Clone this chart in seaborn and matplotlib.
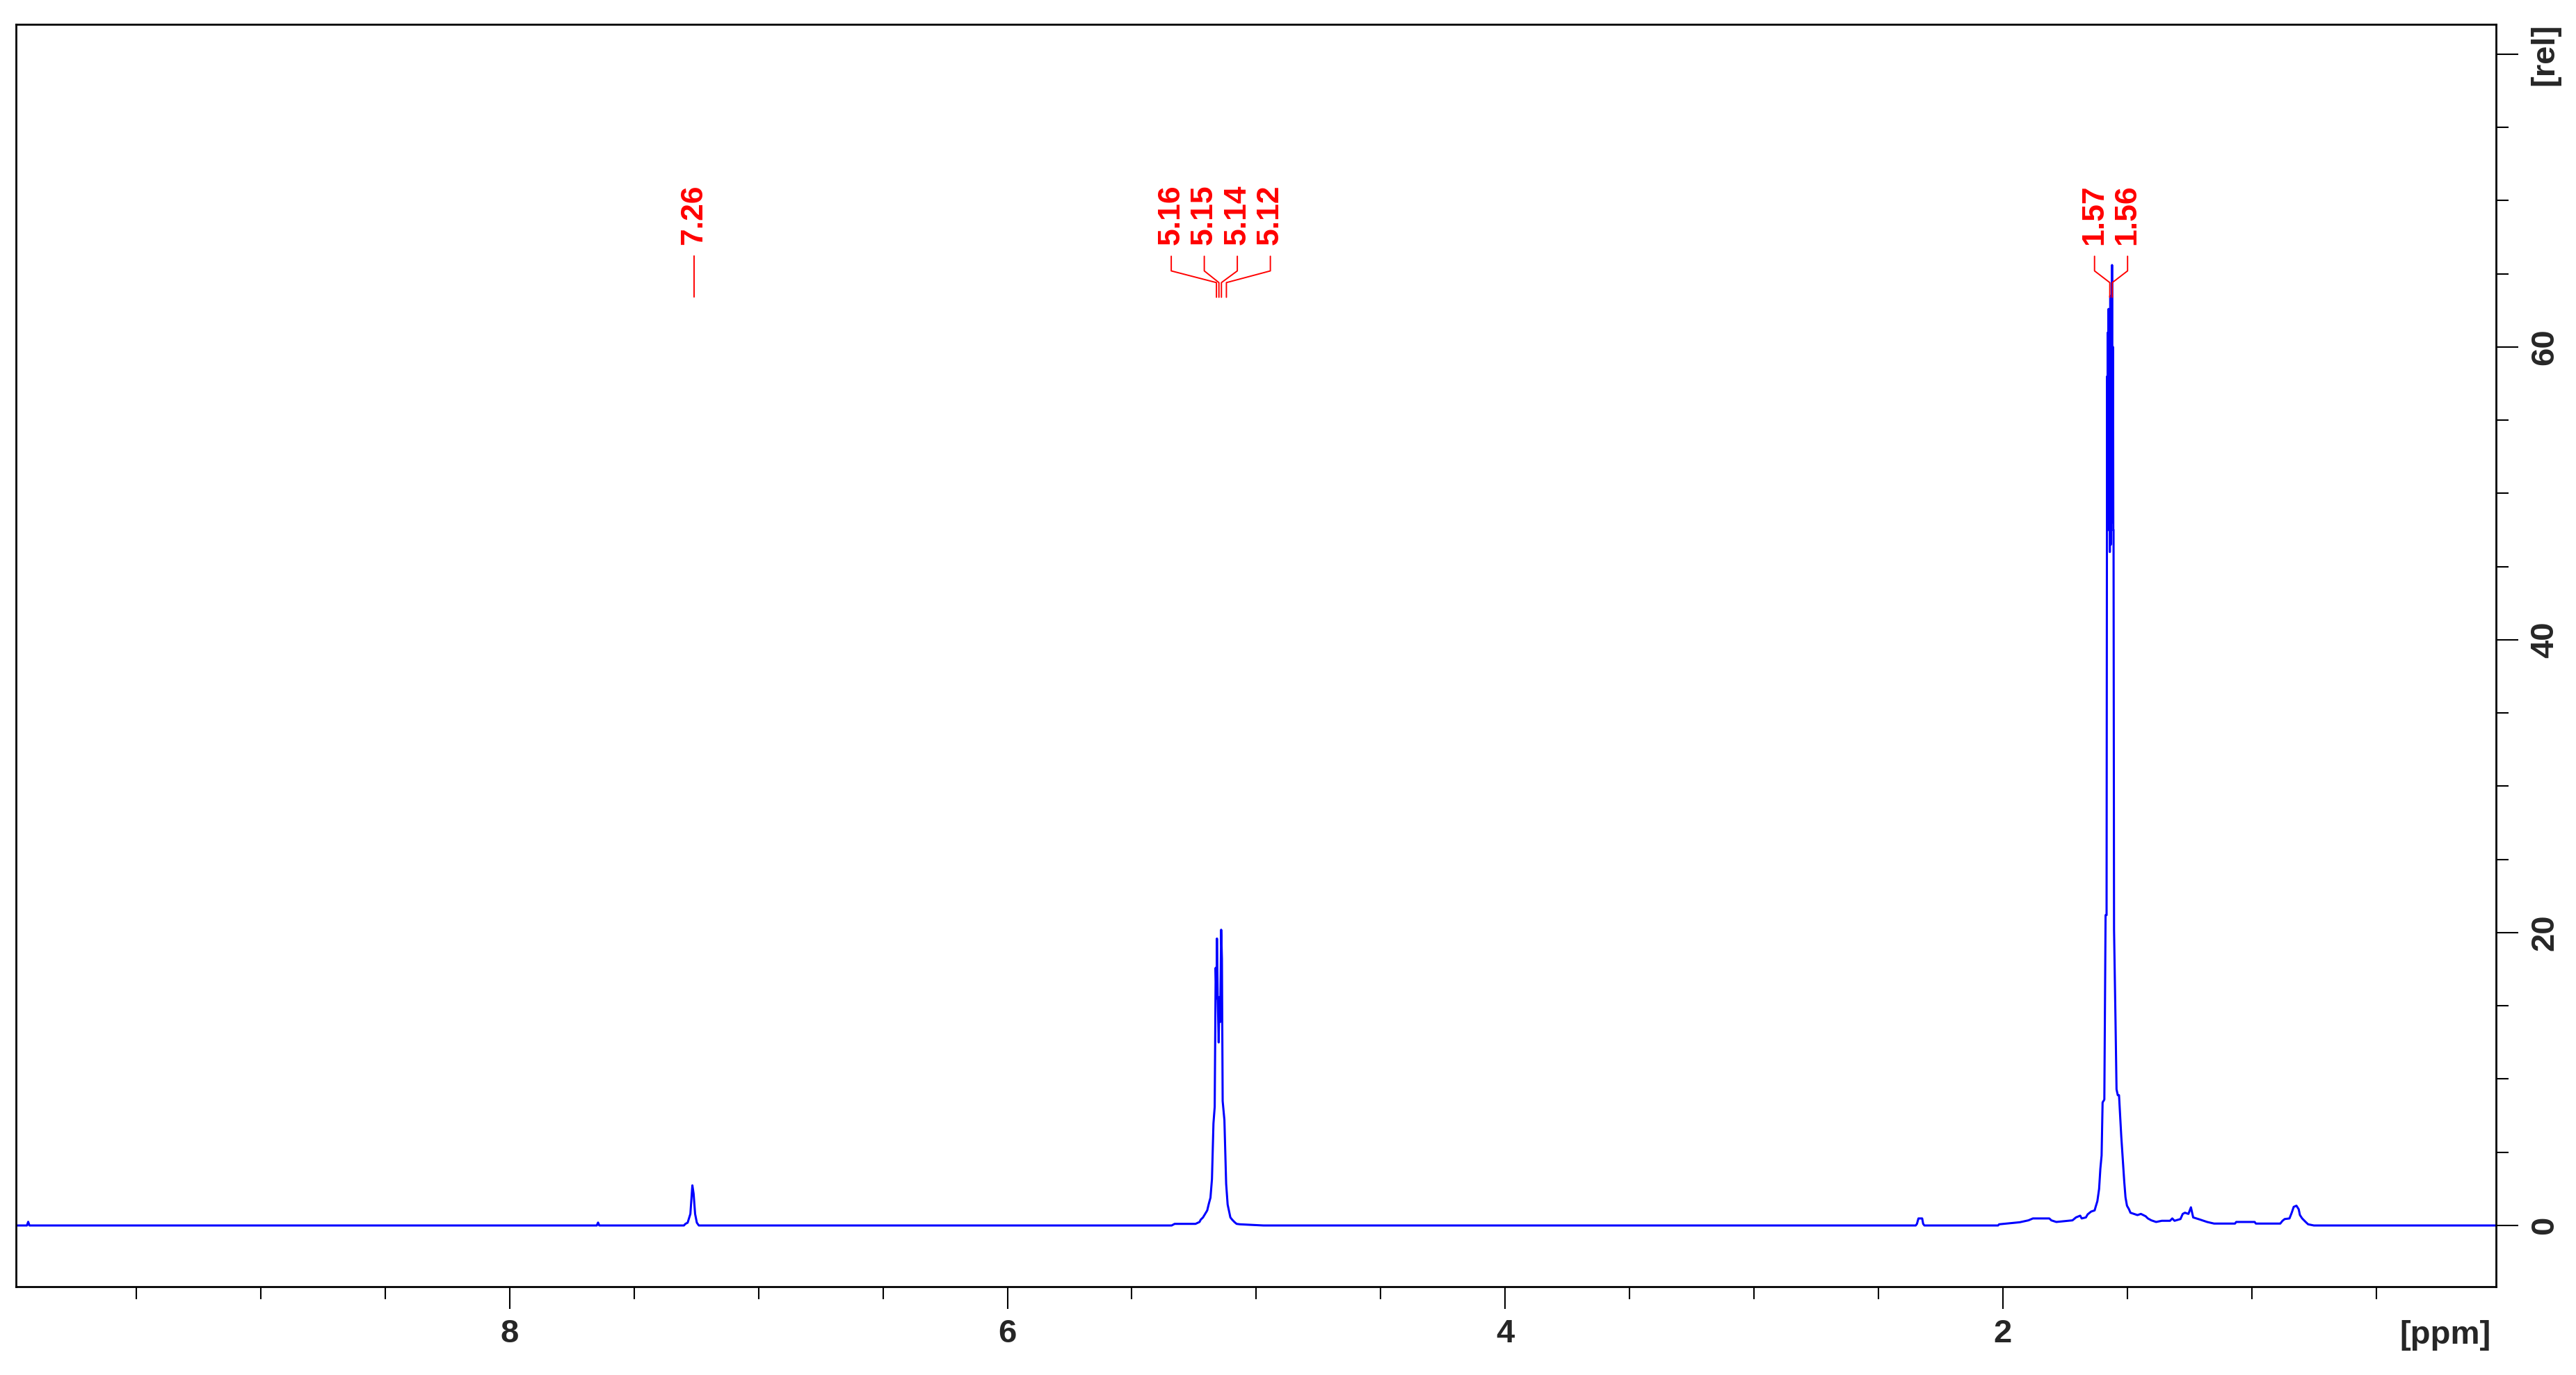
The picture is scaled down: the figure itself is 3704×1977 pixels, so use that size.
#!/usr/bin/env python
import matplotlib
matplotlib.use("Agg")
import matplotlib.pyplot as plt
from matplotlib.lines import Line2D
from matplotlib.ticker import FixedLocator, MultipleLocator
from matplotlib.transforms import IdentityTransform
import numpy as np
import pandas as pd
import seaborn as sns

# 1H NMR spectrum: chemical shift [ppm] / intensity [rel]
flat_ppm = [10.0, 9.94, 9.935, 9.93, 7.65, 7.645, 7.64, 7.30]
flat_int = [0, 0, 0.25, 0, 0, 0.2, 0, 0]

cdcl3_ppm = [7.294, 7.285, 7.274, 7.266, 7.261, 7.255, 7.248, 7.240, 5.340]
cdcl3_int = [0.11, 0.19, 0.79, 2.74, 2.17, 0.79, 0.19, 0.0, 0.0]

olefin_ppm = [5.328, 5.244, 5.228, 5.223, 5.214, 5.205, 5.197, 5.191, 5.184,
              5.178, 5.172, 5.167, 5.163, 5.160, 5.158, 5.155, 5.151, 5.148,
              5.145, 5.141, 5.138, 5.135, 5.128, 5.121, 5.115, 5.109, 5.104,
              5.097, 5.088, 5.079, 5.065, 4.971]
olefin_int = [0.11, 0.11, 0.24, 0.40, 0.55, 0.80, 1.03, 1.46, 1.90,
              3.17, 6.97, 8.1, 17.6, 15.5, 19.6, 15.7, 12.5, 15.6,
              13.9, 20.2, 18.2, 8.5, 7.2, 2.85, 1.43, 0.95, 0.55,
              0.40, 0.24, 0.11, 0.08, 0.0]

methyl_ppm = [2.499, 2.350, 2.345, 2.339, 2.324, 2.320, 2.315, 2.019, 2.015,
              1.932, 1.897, 1.879, 1.813, 1.805, 1.785, 1.720, 1.706, 1.689,
              1.683, 1.666, 1.659, 1.645, 1.631, 1.627, 1.620, 1.613, 1.608,
              1.603, 1.599, 1.592, 1.587, 1.583, 1.581, 1.580, 1.578, 1.577,
              1.575, 1.574, 1.572, 1.570, 1.568, 1.566, 1.564, 1.563, 1.561,
              1.559, 1.557, 1.556, 1.555, 1.553, 1.547, 1.543, 1.538, 1.533,
              1.524, 1.519, 1.512, 1.507, 1.501, 1.493, 1.487, 1.473, 1.459,
              1.445, 1.426, 1.417, 1.403, 1.384, 1.361, 1.328, 1.319, 1.310,
              1.286, 1.277, 1.268, 1.254, 1.244, 1.235, 1.207, 1.179, 1.151,
              1.067, 1.062, 0.988, 0.983, 0.885, 0.876, 0.867, 0.848, 0.839,
              0.831, 0.820, 0.811, 0.806, 0.797, 0.783, 0.773, 0.750, 0.0]
methyl_int = [0, 0, 0.11, 0.48, 0.48, 0.11, 0, 0, 0.08,
              0.22, 0.35, 0.48, 0.48, 0.35, 0.24, 0.35, 0.55, 0.67,
              0.48, 0.55, 0.76, 0.95, 1.03, 1.27, 1.66, 2.5, 3.87,
              4.78, 8.4, 8.6, 21.2, 21.2, 58.0, 48.0, 61.0, 47.5,
              62.6, 48.0, 62.4, 46.0, 63.5, 46.5, 63.0, 50.0, 65.6,
              48.0, 60.0, 47.5, 47.5, 20.2, 13.9, 9.3, 8.9, 8.9,
              6.1, 4.8, 3.0, 1.93, 1.35, 1.11, 0.87, 0.79, 0.71,
              0.79, 0.63, 0.48, 0.35, 0.24, 0.32, 0.32, 0.48, 0.32,
              0.44, 0.79, 0.87, 0.79, 1.24, 0.55, 0.40, 0.24, 0.13,
              0.13, 0.24, 0.24, 0.13, 0.13, 0.32, 0.44, 0.48, 0.87,
              1.27, 1.35, 1.11, 0.71, 0.48, 0.24, 0.08, 0.0, 0.0]

# peak picking labels, grouped as drawn
peak_groups = [[7.26], [5.16, 5.15, 5.14, 5.12], [1.57, 1.56]]

x_ticks = [2, 4, 6, 8]
y_ticks = [0, 20, 40, 60, 80]
y_tick_labels = ["0", "20", "40", "60", "[rel]"]


def start():
    df = pd.DataFrame({
        "ppm": flat_ppm + cdcl3_ppm + olefin_ppm + methyl_ppm,
        "rel": flat_int + cdcl3_int + olefin_int + methyl_int,
    })

    sns.set_style("white")
    plt.rcParams["font.family"] = ["Liberation Sans", "DejaVu Sans"]
    plt.rcParams["font.weight"] = "bold"

    W, H = 3705, 1977
    fig = plt.figure(figsize=(W / 100, H / 100), dpi=100)
    ax = fig.add_axes([23 / W, 127 / H, 3566 / W, 1815 / H])

    sns.lineplot(data=df, x="ppm", y="rel", color="#0000ff", linewidth=2.2,
                 estimator=None, sort=False, ax=ax)
    ax.set_xlim(9.984, 0.018)
    ax.set_ylim(-4.18, 82.04)
    ax.set_autoscale_on(False)
    ax.set_xlabel("")
    ax.set_ylabel("")

    for sp in ax.spines.values():
        sp.set_visible(True)
        sp.set_color("black")
        sp.set_linewidth(2)

    ax.xaxis.set_major_locator(FixedLocator(x_ticks))
    ax.xaxis.set_minor_locator(MultipleLocator(0.5))
    ax.yaxis.tick_right()
    ax.yaxis.set_major_locator(FixedLocator(y_ticks))
    ax.yaxis.set_minor_locator(MultipleLocator(5))
    ax.set_yticklabels(y_tick_labels)

    ax.tick_params(which="both", direction="out", color="black", width=1.5,
                   top=False, left=False, bottom=True, right=True)
    ax.tick_params(which="major", length=23, labelsize=34)
    ax.tick_params(which="minor", length=13)
    ax.tick_params(axis="x", which="major", pad=10)
    ax.tick_params(axis="y", which="major", pad=12, labelrotation=90)
    for lbl in ax.get_yticklabels():
        lbl.set_va("center")
        lbl.set_fontweight("bold")
    for lbl in ax.get_xticklabels():
        lbl.set_fontweight("bold")

    ax.text(0.998, -0.0264, "[ppm]", transform=ax.transAxes, ha="right",
            va="top", fontsize=34, fontweight="bold")

    # peak labels with the bracket-like connectors
    spacing = 47.5
    to_px = ax.transData.transform
    y_text = to_px((0, 67.0))[1]
    y_top = to_px((0, 66.2))[1]
    y_kink = to_px((0, 65.2))[1]
    y_conv = to_px((0, 64.4))[1]
    y_bot = to_px((0, 63.4))[1]
    for group in peak_groups:
        conv = [to_px((p, 0))[0] for p in group]
        center = np.mean(conv)
        n = len(group)
        for i, (p, cx) in enumerate(zip(group, conv)):
            tx = center + (i - (n - 1) / 2) * spacing
            if n == 1:
                xs, ys = [cx, cx], [y_top, y_bot]
            else:
                xs = [tx, tx, cx, cx]
                ys = [y_top, y_kink, y_conv, y_bot]
            ax.add_line(Line2D(xs, ys, transform=IdentityTransform(),
                               color="#ff0000", lw=1.4, clip_on=False))
            ax.text(tx, y_text, f"{p:.2f}", transform=IdentityTransform(),
                    rotation=90, ha="center", va="bottom", color="#ff0000",
                    fontsize=32, fontweight="bold")

    fig.savefig("out.png", dpi=100, facecolor="white")
    plt.close(fig)


if __name__ == "__main__":
    start()
